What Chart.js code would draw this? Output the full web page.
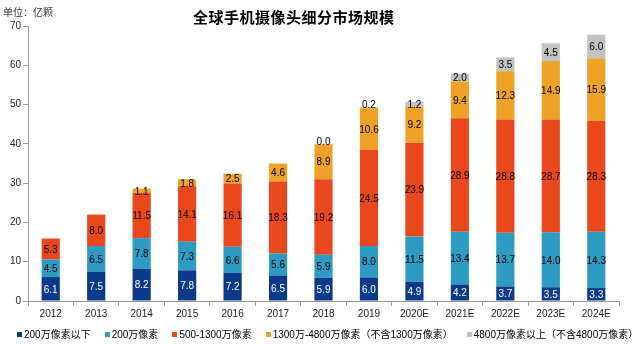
<!DOCTYPE html>
<html>
<head>
<meta charset="utf-8">
<script src="https://cdn.jsdelivr.net/npm/chart.js@4"></script>
<style>
    body { margin: 0; background: #fff; }
    #wrap { position: relative; width: 641px; height: 344px; }
    #title { position: absolute; left: 193px; top: 6px; font: bold 15px 'Noto Sans CJK SC', serif; color: #000; letter-spacing: 0.5px; }
    #unit { position: absolute; left: 3px; top: 4px; font: 10px 'Noto Sans CJK SC', sans-serif; color: #333; }
    #legend { position: absolute; left: 17px; top: 326px; font: 10px 'Liberation Sans', 'Noto Sans CJK SC', sans-serif; color: #000; white-space: nowrap; }
    #legend span.item { margin-right: 14px; }
    #legend i { display: inline-block; width: 5px; height: 5px; margin-right: 2px; vertical-align: 1px; }
</style>
</head>
<body>
<div id="wrap">
    <canvas id="chart" width="641" height="344"></canvas>
    <div id="unit">单位：亿颗</div>
    <div id="title">全球手机摄像头细分市场规模</div>
    <div id="legend"></div>
</div>
<script>
// years / categories
var years = ['2012', '2013', '2014', '2015', '2016', '2017', '2018', '2019', '2020E', '2021E', '2022E', '2023E', '2024E']

var seriesNames = ['200万像素以下', '200万像素', '500-1300万像素', '1300万-4800万像素（不含1300万像素）', '4800万像素以上（不含4800万像素）']
var seriesColors = ['#0B3A8A', '#2E9BC3', '#E8481C', '#EEA328', '#C2C2C2']

var below2m = [6.1, 7.5, 8.2, 7.8, 7.2, 6.5, 5.9, 6.0, 4.9, 4.2, 3.7, 3.5, 3.3]
var px2m = [4.5, 6.5, 7.8, 7.3, 6.6, 5.6, 5.9, 8.0, 11.5, 13.4, 13.7, 14.0, 14.3]
var px5to13m = [5.3, 8.0, 11.5, 14.1, 16.1, 18.3, 19.2, 24.5, 23.9, 28.9, 28.8, 28.7, 28.3]
var px13to48m = [null, null, 1.1, 1.8, 2.5, 4.6, 8.9, 10.6, 9.2, 9.4, 12.3, 14.9, 15.9]
var above48m = [null, null, null, null, null, null, 0.0, 0.2, 1.2, 2.0, 3.5, 4.5, 6.0]

var yTicks = [0, 10, 20, 30, 40, 50, 60, 70]

var allSeries = [below2m, px2m, px5to13m, px13to48m, above48m]

// legend as html
var legendHtml = ''
seriesNames.forEach(function (name, i) {
    legendHtml += '<span class="item"><i style="background:' + seriesColors[i] + '"></i>' + name + '</span>'
})
document.getElementById('legend').innerHTML = legendHtml

// value labels inside the bars
var barLabels = {
    id: 'barLabels',
    afterDatasetsDraw: function (chart) {
        var ctx = chart.ctx
        ctx.save()
        ctx.font = '10px "Liberation Sans", Arial, sans-serif'
        ctx.textAlign = 'center'
        ctx.textBaseline = 'middle'
        chart.data.datasets.forEach(function (ds, di) {
            var meta = chart.getDatasetMeta(di)
            meta.data.forEach(function (bar, i) {
                var v = ds.data[i]
                if (v === null || v === undefined) return
                var y = (bar.y + bar.base) / 2
                if (Math.abs(bar.base - bar.y) < 2) y = bar.y - 3
                ctx.fillStyle = di === 0 ? '#fff' : '#000'
                ctx.fillText(v.toFixed(1), bar.x, y + 1)
            })
        })
        ctx.restore()
    }
}

new Chart(document.getElementById('chart').getContext('2d'), {
    type: 'bar',
    plugins: [barLabels],
    data: {
        labels: years,
        datasets: allSeries.map(function (arr, i) {
            return {
                label: seriesNames[i],
                data: arr,
                backgroundColor: seriesColors[i],
                borderWidth: 0,
                barPercentage: 0.4,
                categoryPercentage: 1
            }
        })
    },
    options: {
        responsive: false,
        animation: false,
        layout: {
            padding: { top: 26, bottom: 22, left: 0, right: 22 }
        },
        plugins: {
            legend: { display: false },
            tooltip: { enabled: false }
        },
        scales: {
            x: {
                stacked: true,
                border: { color: '#999' },
                grid: { drawOnChartArea: false, tickLength: 5, color: '#999', offset: true },
                ticks: { color: '#222', font: { size: 10, family: 'Liberation Sans' }, padding: 2, maxRotation: 0 }
            },
            y: {
                stacked: true,
                min: 0,
                max: 70,
                afterFit: function (scale) { scale.width = 28 },
                afterBuildTicks: function (scale) {
                    scale.ticks = yTicks.map(function (v) { return { value: v } })
                },
                border: { color: '#999' },
                grid: { drawOnChartArea: false, tickLength: 5, color: '#999' },
                ticks: { color: '#222', font: { size: 10, family: 'Liberation Sans' }, padding: 2 }
            }
        }
    }
})
</script>
</body>
</html>
